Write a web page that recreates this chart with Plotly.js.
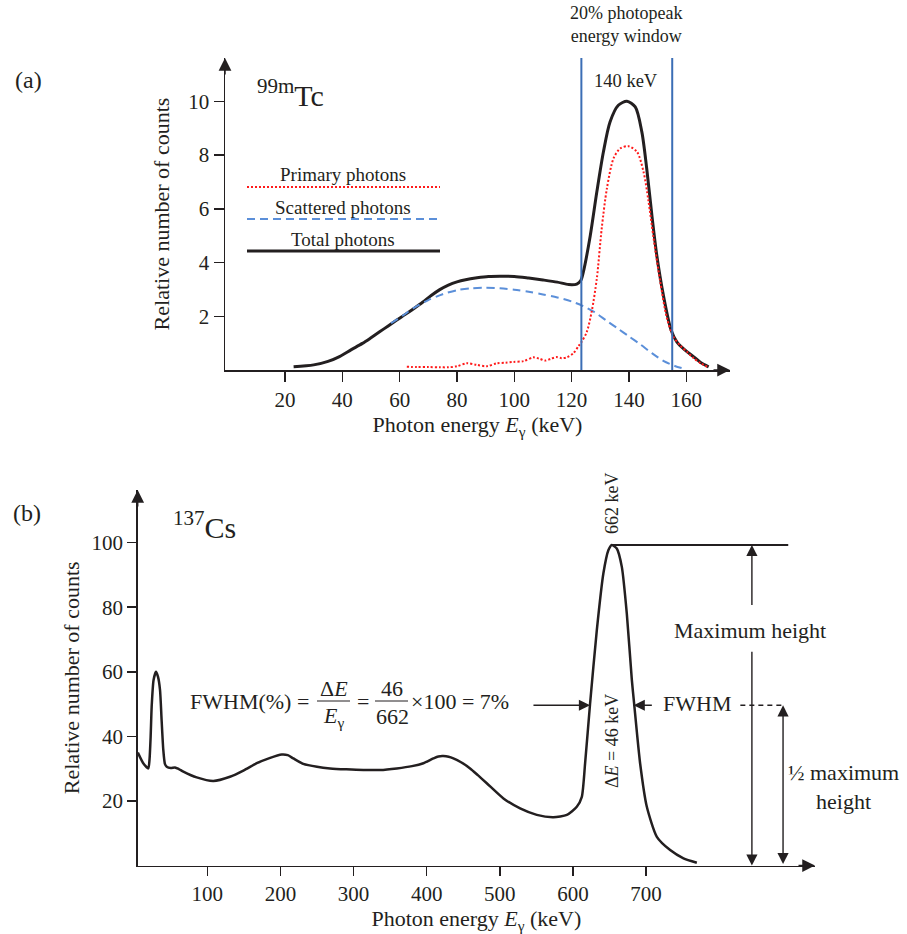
<!DOCTYPE html>
<html>
<head>
<meta charset="utf-8">
<script src="https://cdn.plot.ly/plotly-3.0.1.min.js"></script>
<style>html,body{margin:0;padding:0;background:#fff;}#chart{width:907px;height:934px;}</style>
</head>
<body>
<div id="chart"></div>
<script>
// ---------- (a) 99mTc spectrum ----------
const tcTotalE = [23, 30, 35, 39, 43, 47, 50, 53, 56, 59, 62, 65, 68, 71, 74, 77, 80, 83, 87, 91, 95, 100, 105, 110, 115, 119, 121.8, 123.2, 124.1, 126.5, 128.8, 131.1, 133.4, 136.3, 139.3, 142.2, 144.5, 146.2, 148, 149.7, 152, 154.7, 156.7, 159.5, 162.5, 165, 167.8];
const tcTotal  = [0.12, 0.19, 0.32, 0.5, 0.75, 0.99, 1.2, 1.42, 1.64, 1.86, 2.07, 2.29, 2.52, 2.77, 2.99, 3.16, 3.28, 3.36, 3.43, 3.48, 3.49, 3.48, 3.42, 3.35, 3.27, 3.18, 3.2, 3.33, 3.65, 5.0, 6.63, 8.12, 9.23, 9.85, 10.0, 9.79, 8.86, 7.5, 5.76, 4.28, 2.79, 1.49, 1.05, 0.75, 0.5, 0.28, 0.12];

const tcScatterE = [57, 61, 65, 70, 75, 80, 85, 90, 95, 100, 105, 110, 115, 120, 124, 128, 132, 136, 140, 144, 148, 152, 156, 159.5];
const tcScatter  = [1.74, 2.02, 2.31, 2.6, 2.82, 2.97, 3.04, 3.06, 3.04, 2.99, 2.91, 2.81, 2.7, 2.55, 2.38, 2.15, 1.85, 1.55, 1.25, 0.95, 0.63, 0.34, 0.15, 0.04];

const tcPrimaryE = [62.5, 66, 70, 74, 77, 80, 83.4, 86.9, 90.4, 93.9, 97, 99.7, 103.2, 106.7, 108.8, 110.8, 112.8, 114.8, 116.5, 118.3, 120.6, 122.4, 123.5, 125.3, 127, 128.8, 130.5, 132.3, 134.6, 136.9, 139.8, 142.8, 145.1, 146.8, 148.6, 150.9, 153.2, 155.5, 158, 160.5, 162.5, 165, 167.8];
const tcPrimary  = [0.12, 0.11, 0.11, 0.1, 0.1, 0.14, 0.25, 0.19, 0.14, 0.25, 0.27, 0.3, 0.33, 0.47, 0.42, 0.35, 0.42, 0.48, 0.44, 0.47, 0.62, 0.89, 1.05, 1.42, 2.17, 3.41, 5.27, 6.75, 7.87, 8.24, 8.33, 8.12, 7.37, 6.3, 4.9, 3.3, 1.95, 1.24, 0.9, 0.65, 0.45, 0.25, 0.1];

const tcWindowEdges = [123.4, 155.1];
const tcXTicks = [20, 40, 60, 80, 100, 120, 140, 160];
const tcYTicks = [2, 4, 6, 8, 10];

// ---------- (b) 137Cs spectrum ----------
const csE = [5, 12.4, 19.3, 21, 22.5, 23.9, 26.5, 29.8, 32.5, 35.3, 37.5, 39.8, 42, 44.5, 50, 55.8, 61, 67.2, 85.5, 108.2, 131, 150, 167.6, 185, 201.8, 210, 217.6, 231.3, 250, 267.9, 290, 313.4, 336, 359.1, 380, 395.5, 409.2, 416, 422.8, 430, 436.5, 447, 459.4, 470, 482.2, 505, 527.8, 550.6, 573.3, 591.7, 605.3, 612.2, 616.7, 623.5, 632.7, 641.7, 648.6, 653.2, 660, 666.9, 673.7, 680.6, 683.7, 691.9, 701.1, 714.8, 733, 751.2, 769.5];
const csCounts = [35.0, 31.7, 30.1, 33, 40, 49.2, 57.5, 60.0, 58.5, 54.4, 45, 35.8, 31.5, 30.6, 30.2, 30.4, 29.9, 29.1, 27.3, 26.2, 27.5, 29.5, 31.7, 33.3, 34.4, 34.2, 33.2, 31.5, 30.6, 30.1, 29.8, 29.6, 29.6, 30.1, 30.8, 31.7, 33.2, 33.8, 33.9, 33.7, 33.2, 32, 30.1, 28, 25.5, 20.8, 17.7, 15.7, 15.0, 15.7, 18.2, 21.3, 31.7, 50.2, 72.9, 90.5, 97.7, 99.3, 98.2, 92.5, 78.1, 57.5, 50.2, 31.7, 18.2, 8.9, 4.8, 2.26, 0.9];
const csXTicks = [100, 200, 300, 400, 500, 600, 700];
const csYTicks = [20, 40, 60, 80, 100];
const fwhmEdges = [623.5, 683.0];   // half-maximum crossing points

// ---------- styling helpers ----------
const FONT = 'Liberation Serif, Times New Roman, serif';
const INK = '#231f20';
const W = 907, H = 934;
const px = v => v / W;
const py = v => 1 - v / H;

const pkIdx = csCounts.indexOf(Math.max(...csCounts));
const pkE = csE[pkIdx], pkY = csCounts[pkIdx], halfY = pkY / 2;

const traces = [
  {name: 'Total photons', x: tcTotalE, y: tcTotal, xaxis: 'x', yaxis: 'y', mode: 'lines',
   line: {color: INK, width: 3, shape: 'spline', smoothing: 0.8}},
  {name: 'Scattered photons', x: tcScatterE, y: tcScatter, xaxis: 'x', yaxis: 'y', mode: 'lines',
   line: {color: '#5b8fd9', width: 2, dash: '8px,5px', shape: 'spline', smoothing: 0.8}},
  {name: 'Primary photons', x: tcPrimaryE, y: tcPrimary, xaxis: 'x', yaxis: 'y', mode: 'lines',
   line: {color: '#ff1a1a', width: 2, dash: '2px,2px', shape: 'spline', smoothing: 0.8}},
  {name: '137Cs', x: csE, y: csCounts, xaxis: 'x2', yaxis: 'y2', mode: 'lines',
   line: {color: INK, width: 2.5, shape: 'spline', smoothing: 0.6}}
];

const axisCommon = {
  showline: true, linecolor: INK, linewidth: 1.5, ticks: 'outside', ticklen: 10, tickwidth: 1.5,
  tickcolor: INK, showgrid: false, zeroline: false, tickfont: {family: FONT, size: 21, color: INK},
  tickmode: 'array', fixedrange: true
};

const xTitle = 'Photon energy <i>E</i><sub>γ</sub> (keV)';
const yTitle = 'Relative number of counts';
const titleFont = {family: FONT, size: 22, color: INK};

const layout = {
  width: W, height: H, showlegend: false,
  paper_bgcolor: '#fff', plot_bgcolor: 'rgba(0,0,0,0)',
  margin: {l: 0, r: 0, t: 0, b: 0},
  font: {family: FONT, color: INK},
  xaxis: Object.assign({}, axisCommon, {domain: [px(225), px(730)], range: [-0.94, 175.26], anchor: 'y',
    tickvals: tcXTicks, title: {text: xTitle, font: titleFont, standoff: 6}}),
  yaxis: Object.assign({}, axisCommon, {domain: [py(370), py(58)], range: [0, 11.61], anchor: 'x',
    tickvals: tcYTicks, title: {text: yTitle, font: titleFont, standoff: 12}}),
  xaxis2: Object.assign({}, axisCommon, {domain: [px(137.7), px(815)], range: [4.79, 931.1], anchor: 'y2',
    ticklen: 9, tickvals: csXTicks, title: {text: xTitle, font: titleFont, standoff: 8}}),
  yaxis2: Object.assign({}, axisCommon, {domain: [py(865.6), py(490)], range: [0, 116.3], anchor: 'x2',
    ticklen: 9, tickvals: csYTicks, title: {text: yTitle, font: titleFont, standoff: 6}}),
  shapes: [],
  annotations: []
};

// energy window lines
tcWindowEdges.forEach(e => layout.shapes.push({type: 'line', xref: 'x', yref: 'y', x0: e, x1: e, y0: 0, y1: 11.61,
  line: {color: '#3b6eb5', width: 2}}));

const txt = (x, y, text, size, extra) => Object.assign({xref: 'paper', yref: 'paper', x: px(x), y: py(y), text: text,
  xanchor: 'center', yanchor: 'middle', showarrow: false, font: {family: FONT, size: size, color: INK}}, extra || {});

// hand-drawn legend
const legendItems = [
  {text: 'Primary photons', ty: 175, ly: 187, line: {color: '#ff1a1a', width: 2, dash: '2px,2px'}},
  {text: 'Scattered photons', ty: 207, ly: 219, line: {color: '#5b8fd9', width: 2, dash: '8px,5px'}},
  {text: 'Total photons', ty: 240, ly: 251, line: {color: INK, width: 3}}
];
legendItems.forEach(it => {
  layout.shapes.push({type: 'line', xref: 'paper', yref: 'paper', x0: px(247), x1: px(440), y0: py(it.ly), y1: py(it.ly), line: it.line});
  layout.annotations.push(txt(343, it.ty, it.text, 19));
});

// axis arrowheads
const arrowAnn = (xref, yref, x, y, ax, ay) => ({xref: xref, yref: yref, x: x, y: y, ax: ax, ay: ay, text: '',
  showarrow: true, arrowhead: 2, arrowsize: 1.7, arrowwidth: 1.5, arrowcolor: INK});
layout.annotations.push(arrowAnn('x', 'y', 175.26, 0, -18, 0));
layout.annotations.push(arrowAnn('x', 'y', -0.94, 11.61, 0, 18));
layout.annotations.push(arrowAnn('x2', 'y2', 931.1, 0, -18, 0));
layout.annotations.push(arrowAnn('x2', 'y2', 4.79, 116.3, 0, 18));

// (a) labels
layout.annotations.push(txt(28, 80, '(a)', 24));
layout.annotations.push(txt(290, 93, '<sup>99m</sup>Tc', 30));
layout.annotations.push(txt(626, 25, '20% photopeak<br>energy window', 18));
layout.annotations.push(txt(626, 81, '140 keV', 18.5));

// (b) labels
layout.annotations.push(txt(27, 513, '(b)', 24));
layout.annotations.push(txt(204, 525, '<sup>137</sup>Cs', 30));

// formula FWHM(%) = ΔE/Eγ = 46/662 × 100 = 7%
layout.annotations.push(txt(240.5, 701, 'FWHM(%)', 22));
layout.annotations.push(txt(302.5, 701, '=', 22));
layout.annotations.push(txt(333.5, 688, 'Δ<i>E</i>', 22));
layout.annotations.push(txt(333.5, 717, '<i>E</i><sub>γ</sub>', 22));
layout.annotations.push(txt(362.5, 701, '=', 22));
layout.annotations.push(txt(392, 688, '46', 22));
layout.annotations.push(txt(392, 716, '662', 22));
layout.annotations.push(txt(460, 701, '×100 = 7%', 22));
[[317, 350], [375, 408]].forEach(b => layout.shapes.push({type: 'line', xref: 'paper', yref: 'paper',
  x0: px(b[0]), x1: px(b[1]), y0: py(701), y1: py(701), line: {color: INK, width: 1}}));

// peak markers
layout.shapes.push({type: 'line', xref: 'x2', yref: 'y2', x0: pkE, x1: 894.5, y0: pkY, y1: pkY, line: {color: INK, width: 2}});
layout.shapes.push({type: 'line', xref: 'x2', yref: 'y2', x0: 829, x1: 887.4, y0: halfY, y1: halfY, line: {color: INK, width: 1.3, dash: '5px,4px'}});

const dArrow = (x, y, ax, ay, side) => ({xref: 'x2', yref: 'y2', axref: 'x2', ayref: 'y2', x: x, y: y, ax: ax, ay: ay,
  text: '', showarrow: true, arrowhead: 2, startarrowhead: 2, arrowside: side || 'end', arrowsize: 1.6, startarrowsize: 1.6,
  arrowwidth: 1.4, arrowcolor: INK});
layout.annotations.push(dArrow(fwhmEdges[0], halfY, 544, halfY));
layout.annotations.push(dArrow(fwhmEdges[1], halfY, 710, halfY));
layout.annotations.push(dArrow(844.8, pkY, 844.8, 80.2));
layout.annotations.push(dArrow(844.8, 0, 844.8, 66.7));
layout.annotations.push(dArrow(887.4, halfY, 887.4, 0, 'end+start'));

layout.annotations.push(txt(750, 630, 'Maximum height', 22));
layout.annotations.push(txt(696.7, 703, 'FWHM', 22));
layout.annotations.push(txt(843, 787, '½ maximum<br>height', 22));
layout.annotations.push(txt(612, 503, '662 keV', 18, {textangle: -90}));
layout.annotations.push(txt(612, 741, 'Δ<i>E</i> = 46 keV', 18, {textangle: -90}));

Plotly.newPlot('chart', traces, layout, {displayModeBar: false, staticPlot: true});
</script>
</body>
</html>
